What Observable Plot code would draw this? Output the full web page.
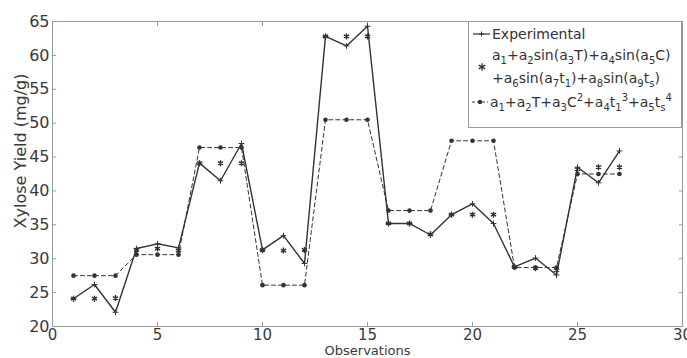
<!DOCTYPE html>
<html><head><meta charset="utf-8">
<script src="https://cdn.jsdelivr.net/npm/d3@7"></script>
<script src="https://cdn.jsdelivr.net/npm/@observablehq/plot@0.6"></script>
<style>body{margin:0;background:#fff} svg{display:block}</style>
</head><body><div id="chart"></div>
<script>
const observations = [1,2,3,4,5,6,7,8,9,10,11,12,13,14,15,16,17,18,19,20,21,22,23,24,25,26,27];
const experimental = [24.1,26.2,22.1,31.5,32.2,31.6,44.1,41.5,47.0,31.3,33.4,29.3,62.8,61.4,64.3,35.2,35.2,33.5,36.5,38.1,35.2,28.8,30.1,27.6,43.5,41.2,45.9];
const sineModel    = [24.1,24.1,24.2,31.3,31.5,31.2,44.1,44.1,44.1,31.3,31.2,31.3,62.8,62.8,62.8,35.2,35.2,33.6,36.5,36.5,36.5,28.8,28.6,28.3,43.2,43.5,43.5];
const polyModel    = [27.5,27.5,27.5,30.6,30.6,30.6,46.4,46.4,46.4,26.1,26.1,26.1,50.5,50.5,50.5,37.1,37.1,37.1,47.4,47.4,47.4,28.7,28.7,28.7,42.5,42.5,42.5];
const xTicks = [0,5,10,15,20,25,30];
const yTicks = [20,25,30,35,40,45,50,55,60,65];
const xLabel = "Observations";
const yLabel = "Xylose Yield (mg/g)";

const rows = vals => observations.map((o, i) => ({x: o, y: vals[i]}));
const expData = rows(experimental), sineData = rows(sineModel), polyData = rows(polyModel);
const ink = "#333";
const frameColor = "#999";

const chart = Plot.plot({
  width: 687, height: 358,
  marginLeft: 52, marginRight: 5, marginTop: 21, marginBottom: 32,
  style: {fontFamily: "DejaVu Sans", background: "#fff", color: "#3a3a3a"},
  x: {domain: [0, 30]},
  y: {domain: [20, 65]},
  marks: [
    Plot.frame({stroke: frameColor}),
    Plot.axisX(xTicks, {tickSize: -4, tickPadding: 7, fontSize: 15, label: null, stroke: frameColor}),
    Plot.axisX(xTicks, {anchor: "top", tickSize: -4, fill: "none", label: null, stroke: frameColor}),
    Plot.axisY(yTicks, {tickSize: -4, tickPadding: 7, fontSize: 16, label: null, stroke: frameColor}),
    Plot.axisY(yTicks, {anchor: "right", tickSize: -4, fill: "none", label: null, stroke: frameColor}),
    Plot.text([xLabel], {frameAnchor: "bottom", textAnchor: "middle", dy: 28, fontSize: 13}),
    Plot.text([yLabel], {frameAnchor: "left", textAnchor: "middle", rotate: -90, dx: -32, dy: -23, fontSize: 16}),
    Plot.line(polyData, {x: "x", y: "y", stroke: ink, strokeWidth: 1, strokeDasharray: "4,3"}),
    Plot.line(expData, {x: "x", y: "y", stroke: ink, strokeWidth: 1.4}),
    Plot.dot(polyData, {x: "x", y: "y", r: 2.3, fill: ink, stroke: null}),
    Plot.dot(sineData, {x: "x", y: "y", symbol: "asterisk", r: 2.8, stroke: ink, strokeWidth: 1.4}),
    Plot.dot(expData, {x: "x", y: "y", symbol: "plus", r: 2, stroke: ink, strokeWidth: 1})
  ]
});
document.getElementById("chart").appendChild(chart);

// Legend
const svg = d3.select(chart);
const lg = svg.append("g").attr("font-family", "DejaVu Sans").attr("fill", "#333")
  .attr("font-size", 14).attr("text-anchor", "start");
lg.append("rect").attr("x", 468.5).attr("y", 21.5).attr("width", 213).attr("height", 106)
  .attr("fill", "#fff").attr("stroke", frameColor);

function richText(x, y, parts) {
  const t = lg.append("text").attr("x", x).attr("y", y).attr("text-anchor", "start");
  let shift = 0;
  for (const [s, kind] of parts) {
    const ts = t.append("tspan").text(s);
    const target = kind === "sub" ? 4 : kind === "sup" ? -6 : 0;
    if (kind) ts.attr("font-size", 10);
    if (target !== shift) { ts.attr("dy", target - shift); shift = target; }
  }
  return t;
}
// row 1: experimental
lg.append("path").attr("d", "M473,34H490").attr("stroke", ink).attr("stroke-width", 1.2);
lg.append("path").attr("d", "M481.5,31.5V36.5M479,34H484").attr("stroke", ink);
richText(492, 39, [["Experimental"]]);
// row 2: sine model
lg.append("path").attr("transform", "translate(482,67)")
  .attr("d", d3.symbol(d3.symbolAsterisk, 40)()).attr("stroke", ink).attr("stroke-width", 1.3).attr("fill", "none");
richText(492, 60, [["a"],["1","sub"],["+a"],["2","sub"],["sin(a"],["3","sub"],["T)+a"],["4","sub"],["sin(a"],["5","sub"],["C)"]]);
richText(492, 83, [["+a"],["6","sub"],["sin(a"],["7","sub"],["t"],["1","sub"],[")+a"],["8","sub"],["sin(a"],["9","sub"],["t"],["s","sub"],[")"]]);
// row 3: polynomial model
lg.append("path").attr("d", "M472,102H488").attr("stroke", ink).attr("stroke-dasharray", "3,2");
lg.append("circle").attr("cx", 480).attr("cy", 102).attr("r", 2.2).attr("fill", ink);
richText(490, 107, [["a"],["1","sub"],["+a"],["2","sub"],["T+a"],["3","sub"],["C"],["2","sup"],["+a"],["4","sub"],["t"],["1","sub"],["3","sup"],["+a"],["5","sub"],["t"],["s","sub"],["4","sup"]]);
</script>
</body></html>
